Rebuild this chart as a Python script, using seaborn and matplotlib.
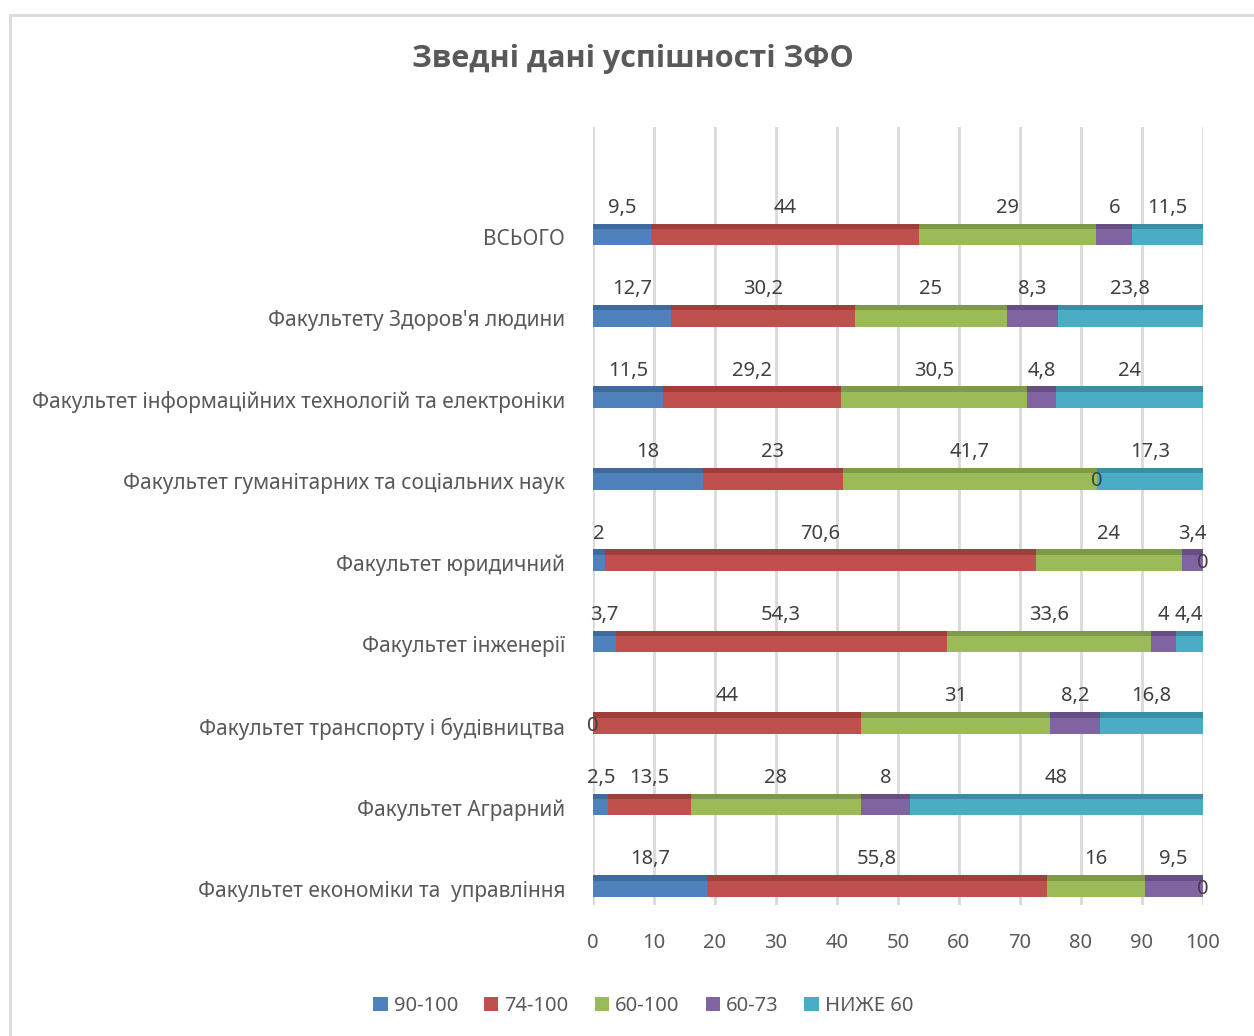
import numpy as np
import pandas as pd
import seaborn as sns
import matplotlib.pyplot as plt
from matplotlib.patches import Patch, Rectangle

# faculties (top to bottom as shown)
faculties = [
    "ВСЬОГО",
    "Факультету Здоров'я людини",
    "Факультет інформаційних технологій та електроніки",
    "Факультет гуманітарних та соціальних наук",
    "Факультет юридичний",
    "Факультет інженерії",
    "Факультет транспорту і будівництва",
    "Факультет Аграрний",
    "Факультет економіки та  управління",
]
series_names = ["90-100", "74-100", "60-100", "60-73", "НИЖЕ 60"]

s_90_100 = [9.5, 12.7, 11.5, 18, 2, 3.7, 0, 2.5, 18.7]
s_74_100 = [44, 30.2, 29.2, 23, 70.6, 54.3, 44, 13.5, 55.8]
s_60_100 = [29, 25, 30.5, 41.7, 24, 33.6, 31, 28, 16]
s_60_73 = [6, 8.3, 4.8, 0, 3.4, 4, 8.2, 8, 9.5]
s_below60 = [11.5, 23.8, 24, 17.3, 0, 4.4, 16.8, 48, 0]

colors = ["#4F81BD", "#C0504D", "#9BBB59", "#8064A2", "#4BACC6"]
top_colors = ["#3E6A9E", "#9E3F3C", "#7E9A48", "#674F86", "#3A8DA3"]

df = pd.DataFrame({"faculty": faculties, "90-100": s_90_100, "74-100": s_74_100,
                   "60-100": s_60_100, "60-73": s_60_73, "НИЖЕ 60": s_below60})
cum = df[series_names].cumsum(axis=1)
starts = cum - df[series_names]

sns.set_theme(style="white")
plt.rcParams['font.family'] = ['Noto Sans', 'DejaVu Sans']

fig = plt.figure(figsize=(12.54, 10.36), dpi=100)
ax = fig.add_axes([0.473, 0.1264, 0.486, 0.751])

# light chart border
fig.patches.append(Rectangle((10 / 1254, -0.01), 1.2, 1 - 15 / 1036 + 0.01,
                             transform=fig.transFigure, fill=False,
                             edgecolor="#D9D9D9", linewidth=2))

# stacked bars: draw cumulative totals from the last series backwards
for k in range(len(series_names) - 1, -1, -1):
    sns.barplot(x=cum[series_names[k]], y=df["faculty"], orient="h",
                color=colors[k], width=0.2, ax=ax, saturation=1,
                linewidth=0, zorder=3)

# thin darker strip on top of bars (3D look)
ypos = np.arange(len(faculties))
for k, name in enumerate(series_names):
    ax.barh(ypos - 0.1, df[name], left=starts[name], height=-0.065,
            align="edge", color=top_colors[k], linewidth=0, zorder=3)

# data labels
for k, name in enumerate(series_names):
    for i in range(len(faculties)):
        v = df[name][i]
        txt = ("%g" % v).replace(".", ",")
        if v == 0:
            ax.text(starts[name][i], i, txt, ha="center", va="center",
                    fontsize=14.5, color="#404040", zorder=5)
        else:
            ax.text(starts[name][i] + v / 2, i - 0.36, txt, ha="center",
                    va="center", fontsize=14.5, color="#404040", zorder=5)

ax.set_xlim(0, 100)
ax.set_ylim(8.2, -1.35)
ax.set_xticks(np.arange(0, 101, 10))
ax.xaxis.grid(True, color="#D9D9D9", linewidth=2, zorder=0)
ax.yaxis.grid(False)
for sp in ax.spines.values():
    sp.set_visible(False)
ax.set_xlabel("")
ax.set_ylabel("")
ax.tick_params(axis="x", labelsize=14.5, labelcolor="#595959", length=0, pad=20)
ax.tick_params(axis="y", labelsize=15, labelcolor="#595959", length=0, pad=20)

fig.text(0.505, 0.943, "Зведні дані успішності ЗФО", ha="center", va="center",
         fontsize=22, fontweight="bold", color="#595959",
         family=["Open Sans", "DejaVu Sans"])

handles = [Patch(facecolor=c, edgecolor="none") for c in colors]
fig.legend(handles, series_names, loc="center", bbox_to_anchor=(0.513, 0.029),
           ncol=5, frameon=False, fontsize=14.5, handlelength=0.7,
           handleheight=0.7, handletextpad=0.3, columnspacing=1.3,
           labelcolor="#595959")

fig.savefig("out.png", dpi=100)
